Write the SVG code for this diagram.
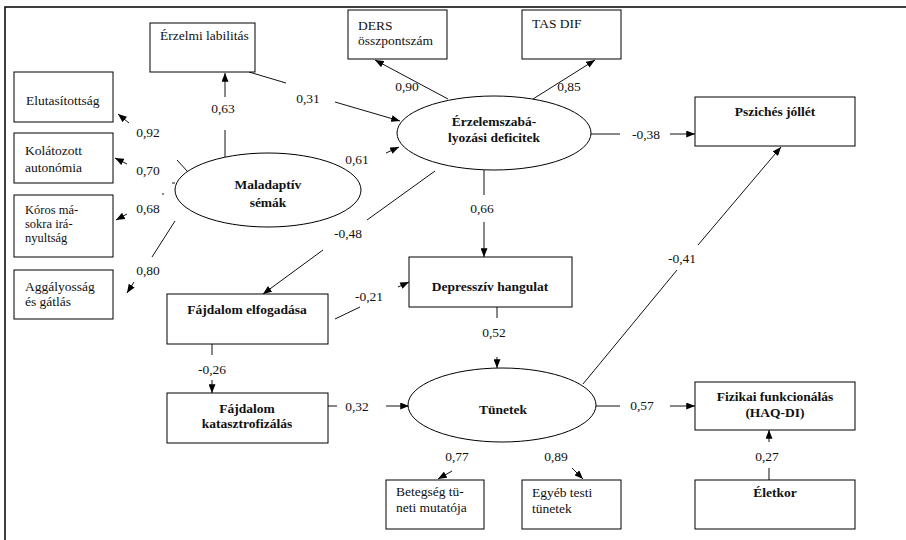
<svg xmlns="http://www.w3.org/2000/svg" width="906" height="540" viewBox="0 0 906 540" font-family="'Liberation Serif', 'Times New Roman', serif">
<style>
.box{fill:#fff;stroke:#000;stroke-width:1}
.ell{fill:#fff;stroke:#000;stroke-width:1}
text{font-family:'Liberation Serif','Times New Roman',serif;font-size:13.5px;fill:#111}
.b{font-weight:bold;text-anchor:middle}
.m{text-anchor:middle}
.frame{stroke:#000;stroke-width:1.5;fill:none}
#connectors line{stroke:#111;stroke-width:1}
#connectors line.a{marker-end:url(#arr)}
</style>
<defs>
<marker id="arr" viewBox="0 0 10 8" refX="10" refY="4" markerWidth="9" markerHeight="7" markerUnits="userSpaceOnUse" orient="auto">
<path d="M0,0 L10,4 L0,8 z" fill="#000"/>
</marker>
</defs>
<rect width="906" height="540" fill="#fff"/>
<path class="frame" d="M906,7 H5 V540"/>

<g id="connectors">
<line x1="225" y1="157" x2="225" y2="130"/>
<line class="a" x1="225" y1="97" x2="225" y2="73"/>
<line x1="249" y1="72" x2="286" y2="83"/>
<line class="a" x1="335" y1="102" x2="400" y2="121"/>
<line class="a" x1="386" y1="153" x2="399" y2="147"/>
<line class="a" x1="448" y1="99" x2="375" y2="60"/>
<line class="a" x1="533" y1="99" x2="595" y2="60"/>
<line x1="591" y1="134" x2="620" y2="134"/>
<line class="a" x1="670" y1="134" x2="695" y2="134"/>
<line x1="484" y1="170" x2="484" y2="195"/>
<line class="a" x1="484" y1="222" x2="484" y2="257"/>
<line x1="435" y1="171" x2="367" y2="220"/>
<line class="a" x1="323" y1="250" x2="263" y2="294"/>
<line x1="188" y1="172" x2="177" y2="160"/>
<line class="a" x1="129" y1="123" x2="118" y2="114"/>
<line x1="172" y1="183" x2="175" y2="183"/>
<line class="a" x1="127" y1="164" x2="115" y2="158"/>
<line x1="162" y1="194" x2="164" y2="194"/>
<line class="a" x1="127" y1="214" x2="116" y2="220"/>
<line x1="175" y1="221" x2="152" y2="257"/>
<line class="a" x1="134" y1="282" x2="127" y2="293"/>
<line x1="335" y1="319" x2="360" y2="307"/>
<line class="a" x1="398" y1="287" x2="409" y2="282"/>
<line x1="212" y1="344" x2="212" y2="355"/>
<line class="a" x1="212" y1="380" x2="212" y2="393"/>
<line x1="323" y1="406" x2="337" y2="406"/>
<line class="a" x1="386" y1="406" x2="409" y2="406"/>
<line x1="497" y1="307" x2="497" y2="318"/>
<line class="a" x1="497" y1="357" x2="497" y2="368"/>
<line x1="583" y1="384" x2="677" y2="270"/>
<line class="a" x1="698" y1="245" x2="781" y2="147"/>
<line x1="596" y1="406" x2="620" y2="406"/>
<line class="a" x1="670" y1="406" x2="695" y2="406"/>
<line x1="769" y1="480" x2="769" y2="468"/>
<line class="a" x1="769" y1="442" x2="769" y2="430"/>
<line class="a" x1="452" y1="471" x2="438" y2="479"/>
<line class="a" x1="572" y1="468" x2="583" y2="479"/>
</g>

<g id="labels">
<text class="m" x="223" y="113">0,63</text>
<text class="m" x="308" y="103">0,31</text>
<text class="m" x="357" y="164">0,61</text>
<text class="m" x="407" y="91">0,90</text>
<text class="m" x="569" y="91">0,85</text>
<text class="m" x="646" y="139">-0,38</text>
<text class="m" x="482" y="213">0,66</text>
<text class="m" x="348" y="238">-0,48</text>
<text class="m" x="148" y="137">0,92</text>
<text class="m" x="148" y="175">0,70</text>
<text class="m" x="148" y="213">0,68</text>
<text class="m" x="148" y="275">0,80</text>
<text class="m" x="369" y="301">-0,21</text>
<text class="m" x="212" y="374">-0,26</text>
<text class="m" x="357" y="411">0,32</text>
<text class="m" x="494" y="337">0,52</text>
<text class="m" x="682" y="263">-0,41</text>
<text class="m" x="642" y="410">0,57</text>
<text class="m" x="767" y="461">0,27</text>
<text class="m" x="457" y="461">0,77</text>
<text class="m" x="556" y="461">0,89</text>
</g>

<g id="erzelmi-labilitas"><rect class="box" x="150" y="23" width="105" height="49"/><text x="160" y="40">Érzelmi labilitás</text></g>
<g id="ders"><rect class="box" x="348" y="10" width="99" height="49"/><text x="358" y="30">DERS</text><text x="358" y="45">összpontszám</text></g>
<g id="tas-dif"><rect class="box" x="522" y="10" width="99" height="49"/><text x="532" y="28">TAS DIF</text></g>
<g id="pszich-jollet"><rect class="box" x="695" y="97" width="160" height="49"/><text class="b" x="775" y="116">Pszichés jóllét</text></g>
<g id="elutasitottsag"><rect class="box" x="14" y="72" width="99" height="50"/><text x="26" y="105">Elutasítottság</text></g>
<g id="kolatozott"><rect class="box" x="14" y="133" width="99" height="50"/><text x="25" y="155">Kolátozott</text><text x="25" y="172">autonómia</text></g>
<g id="koros"><rect class="box" x="14" y="195" width="99" height="62"/><text x="25" y="214" style="font-size:12.5px">Kóros má-</text><text x="25" y="228" style="font-size:12.5px">sokra irá-</text><text x="25" y="242" style="font-size:12.5px">nyultság</text></g>
<g id="aggalyossag"><rect class="box" x="14" y="270" width="99" height="49"/><text x="25" y="291">Aggályosság</text><text x="25" y="306">és gátlás</text></g>
<g id="fajdalom-elfogadasa"><rect class="box" x="167" y="294" width="161" height="50"/><text class="b" x="247" y="314">Fájdalom elfogadása</text></g>
<g id="depressziv"><rect class="box" x="409" y="257" width="163" height="50"/><text class="b" x="490" y="291">Depresszív hangulat</text></g>
<g id="katasztrofizalas"><rect class="box" x="167" y="393" width="161" height="50"/><text class="b" x="247" y="413">Fájdalom</text><text class="b" x="247" y="428">katasztrofizálás</text></g>
<g id="fizikai"><rect class="box" x="695" y="382" width="160" height="48"/><text class="b" x="775" y="401">Fizikai funkcionálás</text><text class="b" x="775" y="417">(HAQ-DI)</text></g>
<g id="eletkor"><rect class="box" x="695" y="480" width="160" height="49"/><text class="b" x="775" y="497">Életkor</text></g>
<g id="betegseg"><rect class="box" x="386" y="480" width="98" height="49"/><text x="396" y="496">Betegség tü-</text><text x="396" y="512">neti mutatója</text></g>
<g id="egyeb"><rect class="box" x="522" y="480" width="99" height="49"/><text x="532" y="497">Egyéb testi</text><text x="532" y="513">tünetek</text></g>

<g id="erzelemszabalyozasi"><ellipse class="ell" cx="494" cy="133" rx="97" ry="37"/><text class="b" x="494" y="126">Érzelemszabá-</text><text class="b" x="494" y="142">lyozási deficitek</text></g>
<g id="maladaptiv"><ellipse class="ell" cx="268" cy="190" rx="93" ry="37"/><text class="b" x="268" y="189">Maladaptív</text><text class="b" x="268" y="207">sémák</text></g>
<g id="tunetek"><ellipse class="ell" cx="502" cy="405" rx="94" ry="37"/><text class="b" x="503" y="414">Tünetek</text></g>
</svg>
